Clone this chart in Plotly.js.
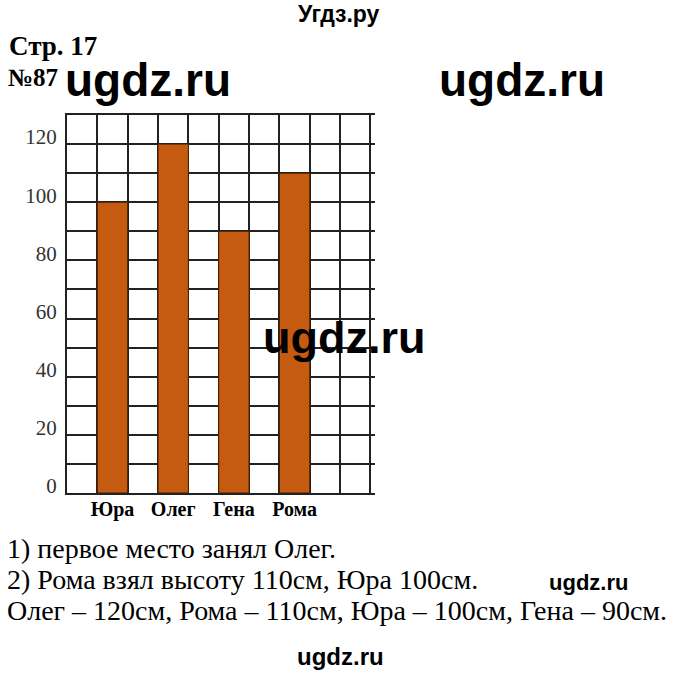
<!DOCTYPE html>
<html>
<head>
<meta charset="utf-8">
<script src="https://cdn.plot.ly/plotly-3.0.1.min.js"></script>
<style>html,body{margin:0;padding:0;background:#fff;}#chart{width:680px;height:678px;}</style>
</head>
<body>
<div id="chart"></div>
<script>
// ---- data ----
const names = ["Юра", "Олег", "Гена", "Рома"];
const heights = [100, 120, 90, 110];
const yTickValues = [0, 20, 40, 60, 80, 100, 120];
const answerLines = [
  "1) первое место занял Олег.",
  "2) Рома взял высоту 110см, Юра 100см.",
  "Олег – 120см, Рома – 110см, Юра – 100см, Гена – 90см."
];

// ---- layout helpers (plot area in page pixels) ----
const L = 67, T = 115, W = 308, H = 378;
const px = x => (x - L) / W;
const py = y => (T + H - y) / H;

// bars sit in every second grid column (columns 1,3,5,7)
const barX = names.map((_, i) => 1.5 + 2 * i);

const serif = "'Liberation Serif', 'Times New Roman', serif";
const sans = "'Liberation Sans', Arial, sans-serif";
const gridColor = "#222";

const trace = {
  type: "bar",
  x: barX,
  y: heights,
  width: 1,
  xaxis: "x",
  yaxis: "y",
  marker: { color: "#C55A11", line: { color: "#4a2000", width: 1 } },
  hoverinfo: "skip"
};
// invisible trace to bind the label axis
const labelTrace = {
  type: "scatter", mode: "markers", x: barX, y: heights.map(() => null),
  xaxis: "x2", yaxis: "y", showlegend: false, hoverinfo: "skip"
};

function ann(text, x, y, size, family, opts) {
  return Object.assign({
    text: text, xref: "paper", yref: "paper", x: px(x), y: py(y),
    xanchor: "left", yanchor: "middle", showarrow: false,
    font: { size: size, family: family, color: "#000" }
  }, opts || {});
}

const annotations = [
  ann("<b>Угдз.ру</b>", 339, 14, 23, sans, { xanchor: "center" }),
  ann("<b>Стр. 17</b>", 7, 46, 27, serif),
  ann("<b>№87</b>", 6, 77, 25, serif),
  ann("<b>ugdz.ru</b>", 148, 80, 46, sans, { xanchor: "center" }),
  ann("<b>ugdz.ru</b>", 522, 80, 46, sans, { xanchor: "center" }),
  ann("<b>ugdz.ru</b>", 344, 337, 45, sans, { xanchor: "center" }),
  ann(answerLines[0], 5, 548, 28, serif),
  ann(answerLines[1], 5, 579, 28, serif),
  ann(answerLines[2], 5, 610, 28, serif),
  ann("<b>ugdz.ru</b>", 588, 582, 22, sans, { xanchor: "center" }),
  ann("<b>ugdz.ru</b>", 340, 656, 24, sans, { xanchor: "center" })
];

const layout = {
  width: 680, height: 678,
  margin: { l: L, r: 680 - L - W, t: T, b: 678 - T - H, pad: 0 },
  paper_bgcolor: "#fff", plot_bgcolor: "#fff",
  showlegend: false,
  bargap: 0,
  xaxis: {
    range: [0, 10.15], tickmode: "linear", tick0: 0, dtick: 1,
    showticklabels: false, ticks: "", showgrid: true,
    gridcolor: gridColor, gridwidth: 2, zeroline: false,
    showline: true, linecolor: gridColor, linewidth: 2, mirror: true,
    fixedrange: true
  },
  xaxis2: {
    overlaying: "x", anchor: "y", side: "bottom", matches: "x",
    range: [0, 10.15], tickmode: "array", tickvals: barX, ticktext: names,
    showgrid: false, zeroline: false, showline: false, ticks: "",
    tickfont: { family: serif, size: 20, color: "#000", weight: "bold" },
    ticklabelstandoff: 2, fixedrange: true
  },
  yaxis: {
    range: [0, 130], tickmode: "array", tickvals: yTickValues,
    ticktext: yTickValues.map(String),
    showgrid: true, gridcolor: gridColor, gridwidth: 2,
    minor: { tickmode: "linear", tick0: 0, dtick: 10, showgrid: true, gridcolor: gridColor, gridwidth: 2, ticks: "" },
    zeroline: false, showline: true, linecolor: gridColor, linewidth: 2,
    ticks: "", ticklabelshift: -7, ticklabelstandoff: 4,
    tickfont: { family: serif, size: 21, color: "#333" }, fixedrange: true
  },
  annotations: annotations
};

Plotly.newPlot("chart", [trace, labelTrace], layout, { staticPlot: true, displayModeBar: false });
</script>
</body>
</html>
